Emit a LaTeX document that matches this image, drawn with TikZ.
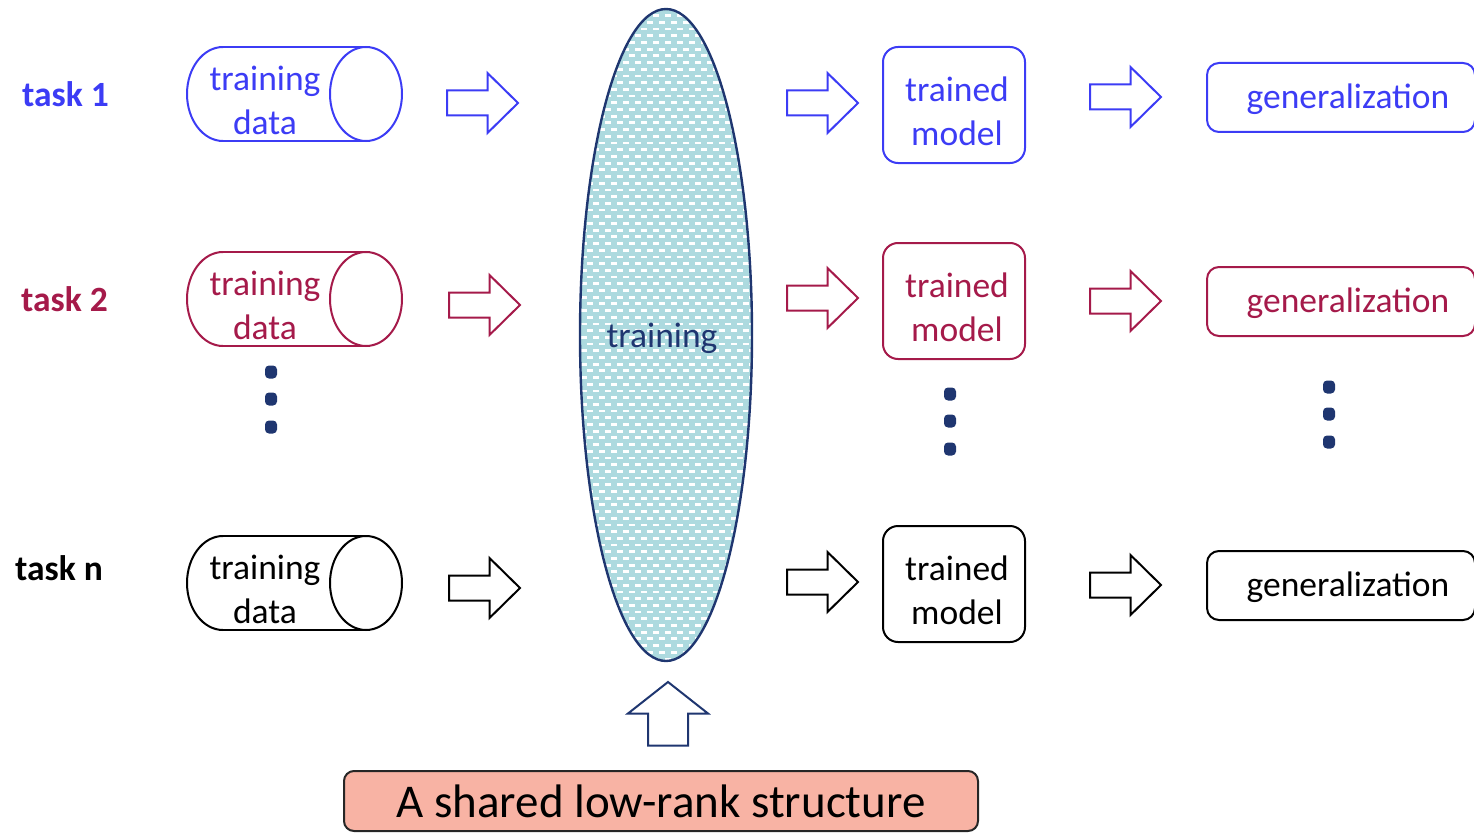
\documentclass[tikz,border=0pt]{standalone}
\usepackage{fontspec}
\setmainfont{Carlito}
\usetikzlibrary{shapes.geometric}
\definecolor{tblue}{HTML}{3C3CF5}
\definecolor{tred}{HTML}{A51A4A}
\definecolor{navy}{HTML}{1F3670}
\definecolor{teal}{HTML}{ADDADF}
\definecolor{salmon}{HTML}{F8B3A4}
\tikzset{
  lbl/.style={font=\fontsize{35.5}{44}\selectfont, inner sep=0pt, align=center},
  tasklbl/.style={font=\fontsize{35.5}{44}\selectfont\bfseries, inner sep=0pt, anchor=west},
  modelbox/.style={draw, line width=2pt, rounded corners=15pt, minimum width=142pt, minimum height=116pt, inner sep=0pt},
  genbox/.style={draw, line width=2pt, rounded corners=12pt, minimum width=268pt, minimum height=69pt, inner sep=0pt},
  outline/.style={line width=2pt},
  pics/rarr/.style={code={
    \path[pic actions] (0,-12.5) -- (40.5,-12.5) -- (40.5,-30) -- (71,0)
      -- (40.5,30) -- (40.5,12.5) -- (0,12.5) -- cycle;}},
  pics/datacyl/.style={code={
    % body: half-length 107.5, cap radii 36 x 47
    \path[pic actions] (-71.5,-47) -- (71.5,-47);
    \path[pic actions] (-71.5,47) -- (71.5,47);
    \path[pic actions] (-71.5,-47) arc[start angle=-90, end angle=-270, x radius=36, y radius=47];
    \path[pic actions] (71.5,0) ellipse[x radius=36, y radius=47];}},
  dot/.style={rectangle, rounded corners=4pt, fill=navy, inner sep=0pt, minimum width=12pt, minimum height=13pt}
}
\begin{document}
\begin{tikzpicture}[x=1pt,y=-1pt]
\useasboundingbox (0,0) rectangle (1474,832);

% shared training ellipse with a dashed texture
\begin{scope}
  \clip (666,335) ellipse[x radius=86, y radius=326];
  \fill[teal] (570,0) rectangle (760,670);
  \foreach \i in {0,...,98} {
    \pgfmathsetmacro{\yy}{9+\i*6.7}
    \pgfmathsetmacro{\ph}{mod(\i,2)*6}
    \draw[white, line width=2.8pt, dash pattern=on 5.5pt off 6.5pt, dash phase=\ph pt]
      (575,\yy) -- (760,\yy);
  }
\end{scope}
\node[draw=navy, line width=2.4pt, ellipse, minimum width=172pt, minimum height=652pt, inner sep=0pt] (tr) at (666,335) {};
\node[lbl, text=navy] (trt) at (662,338) {training};

% task labels
\node[tasklbl, text=tblue] (task1) at (22,94) {task 1};
\node[tasklbl, text=tred] (task2) at (21,299) {task 2};
\node[tasklbl, text=black] (taskn) at (15,568) {task n};

% training data stores
\pic[draw=tblue, outline] at (294.5,94) {datacyl};
\node[lbl, text=tblue] (d1) at (265,100) {training\\data};
\pic[draw=tred, outline] at (294.5,299) {datacyl};
\node[lbl, text=tred] (d2) at (265,305) {training\\data};
\pic[draw=black, outline] at (294.5,583) {datacyl};
\node[lbl, text=black] (dn) at (265,589) {training\\data};

% block arrows into training
\pic[draw=tblue, outline] at (447,103) {rarr};
\pic[draw=tred, outline] at (449,305) {rarr};
\pic[draw=black, outline] at (449,588) {rarr};

% block arrows out of training
\pic[draw=tblue, outline] at (787,103) {rarr};
\pic[draw=tred, outline] at (787,298) {rarr};
\pic[draw=black, outline] at (787,582) {rarr};

% trained models
\node[modelbox, draw=tblue] (m1) at (954,105) {};
\node[lbl, text=tblue] (m1t) at (957,111) {trained\\model};
\node[modelbox, draw=tred] (m2) at (954,301) {};
\node[lbl, text=tred] (m2t) at (957,307) {trained\\model};
\node[modelbox, draw=black] (mn) at (954,584) {};
\node[lbl, text=black] (mnt) at (957,590) {trained\\model};

% block arrows into generalization
\pic[draw=tblue, outline] at (1090,97) {rarr};
\pic[draw=tred, outline] at (1090,301) {rarr};
\pic[draw=black, outline] at (1090,585) {rarr};

% generalization
\node[genbox, draw=tblue] (g1) at (1341,97.5) {};
\node[lbl, text=tblue] (g1t) at (1348,99) {generalization};
\node[genbox, draw=tred] (g2) at (1341,301.5) {};
\node[lbl, text=tred] (g2t) at (1348,303) {generalization};
\node[genbox, draw=black] (gn) at (1341,585.5) {};
\node[lbl, text=black] (gnt) at (1348,587) {generalization};

% ellipsis dots
\foreach \y [count=\k] in {372,399,427} \node[dot] (da\k) at (271,\y) {};
\foreach \y [count=\k] in {394,421,449} \node[dot] (db\k) at (950,\y) {};
\foreach \y [count=\k] in {387,414,442} \node[dot] (dc\k) at (1329,\y) {};

% up arrow from the shared structure
\draw[navy, outline] (648,745.5) -- (648,713.5) -- (628,713.5) -- (668,682)
  -- (708,713.5) -- (688,713.5) -- (688,745.5) -- cycle;

% shared low-rank structure
\node[draw=black!85, line width=2pt, fill=salmon, rounded corners=10pt,
  minimum width=634pt, minimum height=60pt, inner sep=0pt,
  font=\fontsize{47}{56}\selectfont] (lr) at (661,801) {A shared low-rank structure};
\end{tikzpicture}
\end{document}
